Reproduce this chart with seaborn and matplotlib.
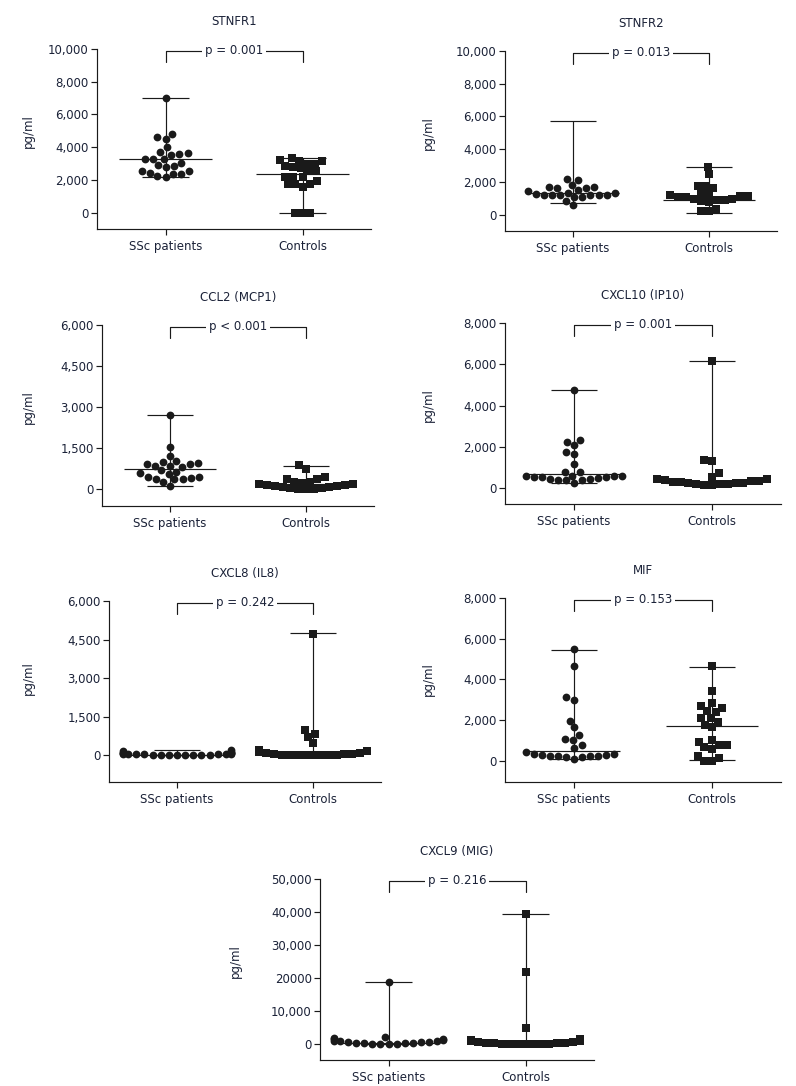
import numpy as np
import pandas as pd
import matplotlib
matplotlib.use("Agg")
import matplotlib.pyplot as plt
import matplotlib.transforms as mtransforms
import seaborn as sns

# ---------------- data (pg/ml) ----------------
groups = ["SSc patients", "Controls"]

stnfr1_ssc = [7000, 4800, 4600, 4520, 3990, 3700, 3620, 3580, 3520, 3300, 3300, 3280,
              3010, 2910, 2870, 2810, 2550, 2550, 2440, 2360, 2360, 2260, 2180]
stnfr1_ctrl = [3340, 3220, 3180, 3180, 2990, 2990, 2870, 2810, 2730, 2530, 2530, 2200,
               2200, 2200, 1930, 1770, 1770, 1770, 1570, 0, 0, 0]
stnfr1_median = [3300, 2360]
stnfr1_low = [2180, 0]
stnfr1_high = [7000, 3340]

stnfr2_ssc = [2180, 2100, 1800, 1690, 1690, 1630, 1630, 1490, 1430, 1350, 1350, 1290,
              1220, 1220, 1180, 1180, 1180, 1180, 1080, 1080, 860, 610]
stnfr2_ctrl = [2920, 2470, 1760, 1730, 1630, 1290, 1240, 1180, 1140, 1140, 1080, 1080,
               980, 940, 880, 880, 820, 780, 370, 200, 200]
stnfr2_median = [1300, 880]
stnfr2_low = [700, 120]
stnfr2_high = [5700, 2900]

ccl2_ssc = [2700, 1550, 1210, 1020, 1010, 960, 910, 910, 860, 850, 830, 690, 640, 580,
            560, 460, 440, 430, 390, 380, 360, 260, 120]
ccl2_ctrl = [880, 740, 460, 390, 390, 280, 260, 240, 200, 190, 170, 150, 120, 120, 90,
             70, 60, 40, 20, 0, 0]
ccl2_median = [730, 210]
ccl2_low = [130, 0]
ccl2_high = [2700, 850]

cxcl10_ssc = [4730, 2330, 2250, 2100, 1740, 1650, 1180, 780, 780, 610, 610, 610, 610,
              520, 520, 520, 480, 440, 440, 370, 370, 370, 240]
cxcl10_ctrl = [6150, 1370, 1320, 730, 530, 450, 420, 380, 350, 330, 310, 290, 270, 260,
               240, 220, 200, 180, 170, 150]
cxcl10_median = [690, 250]
cxcl10_low = [270, 150]
cxcl10_high = [4730, 6150]

cxcl8_ssc = [190, 140, 100, 90, 80, 70, 65, 55, 50, 45, 40, 35, 30, 25, 20, 15, 10, 10,
             5, 5, 0, 0]
cxcl8_ctrl = [4710, 960, 830, 700, 470, 210, 170, 120, 90, 70, 50, 40, 30, 20, 15, 10,
              5, 5, 0, 0, 0]
cxcl8_median = [20, 20]
cxcl8_low = [0, 0]
cxcl8_high = [200, 4750]

mif_ssc = [5490, 4670, 3110, 3000, 1970, 1640, 1280, 1080, 1000, 750, 620, 430, 340,
           340, 260, 260, 250, 250, 250, 250, 160, 160, 80]
mif_ctrl = [4670, 3410, 2840, 2670, 2590, 2430, 2390, 2100, 2100, 1900, 1770, 1640,
            1000, 920, 750, 750, 660, 570, 250, 130, 0, 0]
mif_median = [490, 1700]
mif_low = [100, 50]
mif_high = [5460, 4610]

cxcl9_ssc = [18900, 2200, 1800, 1500, 1400, 1200, 1000, 900, 800, 700, 600, 500, 400,
             300, 250, 200, 150, 100, 80, 50]
cxcl9_ctrl = [39500, 21700, 4850, 1600, 1300, 800, 800, 600, 500, 400, 300, 250, 200,
              150, 100, 80, 50, 30, 20, 10]
cxcl9_median = [300, 300]
cxcl9_low = [0, 0]
cxcl9_high = [18900, 39500]

titles = ["STNFR1", "STNFR2", "CCL2 (MCP1)", "CXCL10 (IP10)", "CXCL8 (IL8)", "MIF", "CXCL9 (MIG)"]
p_labels = ["p = 0.001", "p = 0.013", "p < 0.001", "p = 0.001", "p = 0.242", "p = 0.153", "p = 0.216"]
yticks_10k = [0, 2000, 4000, 6000, 8000, 10000]
yticks_6k = [0, 1500, 3000, 4500, 6000]
yticks_8k = [0, 2000, 4000, 6000, 8000]
yticks_50k = [0, 10000, 20000, 30000, 40000, 50000]
yticklabels_50k = ["0", "10,000", "20000", "30,000", "40,000", "50,000"]

# ---------------- style ----------------
sns.set_theme(style="ticks")
plt.rcParams["font.family"] = ["DejaVu Sans"]
TXT = "#1b2238"
MK = "#1a1a1a"
LW = 0.85

W, H = 796, 1086
fig = plt.figure(figsize=(W / 100, H / 100), dpi=100)
fig.patch.set_facecolor("white")

# layout in pixels: (left, top, bottom, width, ylabel offset)
layout = [
    (97, 49, 229, 274, 62),
    (505, 51, 231, 272, 70),
    (102, 325, 506, 272, 67),
    (505, 323, 504, 276, 70),
    (109, 601, 782, 272, 74),
    (505, 598, 782, 276, 70),
    (320, 879, 1060, 274, 78),
]

panels = [
    (stnfr1_ssc, stnfr1_ctrl, stnfr1_median, stnfr1_low, stnfr1_high, yticks_10k, None, -1000),
    (stnfr2_ssc, stnfr2_ctrl, stnfr2_median, stnfr2_low, stnfr2_high, yticks_10k, None, -1000),
    (ccl2_ssc, ccl2_ctrl, ccl2_median, ccl2_low, ccl2_high, yticks_6k, None, -610),
    (cxcl10_ssc, cxcl10_ctrl, cxcl10_median, cxcl10_low, cxcl10_high, yticks_8k, None, -770),
    (cxcl8_ssc, cxcl8_ctrl, cxcl8_median, cxcl8_low, cxcl8_high, yticks_6k, None, -1050),
    (mif_ssc, mif_ctrl, mif_median, mif_low, mif_high, yticks_8k, None, -1050),
    (cxcl9_ssc, cxcl9_ctrl, cxcl9_median, cxcl9_low, cxcl9_high, yticks_50k, yticklabels_50k, -4850),
]

for k, ((ssc, ctrl, med, low, high, yt, ytl, ymin), (L, T, B, Wd, yoff)) in enumerate(zip(panels, layout)):
    ax = fig.add_axes([L / W, 1 - B / H, Wd / W, (B - T) / H])
    ax.set_facecolor("white")
    df_s = pd.DataFrame({"group": groups[0], "value": ssc})
    df_c = pd.DataFrame({"group": groups[1], "value": ctrl})
    sns.swarmplot(data=df_s, x="group", y="value", order=groups, marker="o", color=MK,
                  size=5.6, linewidth=0, warn_thresh=1, ax=ax, zorder=3)
    sns.swarmplot(data=df_c, x="group", y="value", order=groups, marker="s", color=MK,
                  size=5.4, linewidth=0, warn_thresh=1, ax=ax, zorder=3)
    for i in range(2):
        ax.vlines(i, low[i], high[i], color=MK, lw=LW, zorder=4)
        ax.hlines([low[i], high[i]], i - 0.17, i + 0.17, color=MK, lw=LW, zorder=4)
        ax.hlines(med[i], i - 0.336, i + 0.336, color=MK, lw=LW, zorder=4)

    ymax = yt[-1]
    ax.set_ylim(ymin, ymax)
    ax.set_xlim(-0.5, 1.5)
    ax.set_yticks(yt)
    ax.set_yticklabels(ytl if ytl is not None else [f"{v:,}" for v in yt])
    ax.set_xticks([0, 1])
    ax.set_xticklabels(groups)
    ax.set_xlabel("")
    ax.set_ylabel("pg/ml", fontsize=8.5, color=TXT)
    ax.yaxis.set_label_coords(-yoff / Wd, (ymax / 2 - ymin) / (ymax - ymin))
    ax.tick_params(axis="both", direction="out", length=4, width=LW, color=MK,
                   labelsize=8.5, labelcolor=TXT, pad=2)
    ax.tick_params(axis="x", pad=4)
    sns.despine(ax=ax)
    for s in ("left", "bottom"):
        ax.spines[s].set_linewidth(LW)
        ax.spines[s].set_color(MK)
    ax.set_title(titles[k], fontsize=8.5, color=TXT, pad=17)

    # significance bracket
    trans = mtransforms.blended_transform_factory(ax.transData, ax.transAxes)
    h = B - T
    y_top = 1 - 1.5 / h
    y_drop = 1 - 12.5 / h
    ax.plot([0, 0, 1, 1], [y_drop, y_top, y_top, y_drop], color=MK, lw=LW,
            transform=trans, clip_on=False, zorder=5)
    ax.text(0.5, y_top, p_labels[k], transform=trans, ha="center", va="center",
            fontsize=8.5, color=TXT, zorder=6,
            bbox=dict(boxstyle="square,pad=0.25", fc="white", ec="none"))

fig.savefig("out.png", dpi=100, facecolor="white")
